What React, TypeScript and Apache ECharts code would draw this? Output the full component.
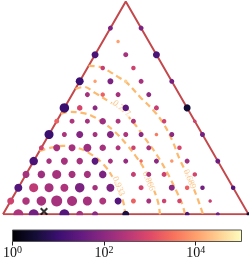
import React, { useEffect, useRef } from "react";
import * as echarts from "echarts";

const N = 16;
const SQ = Math.sqrt(3) / 2;

// each point: [column (right component * N), log10(count), marker diameter]
type Pt = [number, number, number];
const row0: Pt[] = [[1, 2.4, 10], [2, 1.7, 10], [4, 1.3, 10], [5, 2.3, 7], [6, 2.0, 6], [8, 0.6, 7], [12, 1.2, 5], [14, 1.7, 4], [16, 0.5, 4]];
const row1: Pt[] = [[0, 2.8, 7], [1, 2.4, 7.5], [2, 2.3, 9.5], [3, 2.3, 11], [4, 2.3, 10], [5, 2.3, 9], [6, 2.4, 7], [7, 1.3, 7], [8, 3.3, 5], [9, 2.3, 5], [10, 2.8, 4.5], [11, 2.9, 4.5], [13, 2.7, 3.5]];
const row2: Pt[] = [[0, 1.3, 8], [1, 2.6, 9], [2, 2.3, 9], [3, 2.4, 8], [4, 1.8, 9.5], [5, 2.3, 5.5], [6, 1.8, 8], [8, 2.8, 5], [10, 2.0, 6], [11, 3.3, 4.5], [12, 1.7, 4.5], [14, 1.3, 4.5]];
const row3: Pt[] = [[0, 2.3, 7], [1, 2.2, 7.5], [2, 2.3, 9], [3, 2.3, 7], [4, 2.3, 7], [5, 1.8, 7.5], [7, 2.7, 5], [8, 2.4, 5], [9, 2.8, 5], [11, 2.9, 4.5]];
const row4: Pt[] = [[0, 1.2, 8.5], [1, 2.3, 5.5], [2, 2.3, 7], [3, 2.3, 6.5], [4, 1.4, 7], [5, 2.3, 5], [6, 2.1, 5], [7, 3.4, 3.5], [8, 2.0, 5], [9, 3.9, 3.5], [10, 2.2, 5], [12, 1.6, 5]];
const row5: Pt[] = [[0, 2.8, 5], [1, 2.3, 7], [2, 2.3, 7], [3, 2.2, 8], [4, 2.3, 6.5], [5, 2.4, 5], [6, 2.8, 4.5], [7, 2.3, 5], [9, 2.9, 4.5]];
const row6: Pt[] = [[0, 1.0, 9], [1, 2.4, 5], [2, 1.9, 7], [3, 2.3, 5], [4, 1.9, 7], [5, 2.4, 5], [6, 2.0, 5], [7, 3.6, 3.5], [8, 2.0, 5], [10, 1.7, 5]];
const row7: Pt[] = [[0, 3.3, 5], [1, 2.4, 5], [2, 2.3, 5], [3, 2.2, 6.5], [4, 2.4, 5], [5, 2.4, 5], [7, 2.8, 4.5], [9, 2.8, 3.5]];
const row8: Pt[] = [[0, 1.0, 9.5], [1, 2.9, 5.5], [2, 2.0, 5], [4, 1.4, 6.5], [6, 2.7, 5], [8, 0.5, 7]];
const row9: Pt[] = [[1, 2.3, 5], [2, 3.3, 4.5], [3, 2.3, 5], [5, 2.0, 5]];
const row10: Pt[] = [[0, 1.0, 8], [1, 4.0, 3.5], [2, 1.8, 6], [3, 4.5, 3.5], [4, 2.3, 5], [6, 1.7, 5]];
const row11: Pt[] = [[1, 2.7, 4.5], [3, 2.8, 4.5]];
const row12: Pt[] = [[0, 1.2, 7], [2, 2.3, 5], [4, 1.2, 7]];
const row13: Pt[] = [[1, 4.0, 3.5]];
const row14: Pt[] = [[0, 1.8, 5], [2, 1.8, 5]];
const rows: Pt[][] = [row0, row1, row2, row3, row4, row5, row6, row7, row8, row9, row10, row11, row12, row13, row14];

// contour lines in simplex cartesian coordinates [x, y]
const contour933: number[][] = [[0.149, 0.2578], [0.1914, 0.2701], [0.2444, 0.2782], [0.3055, 0.2701], [0.3625, 0.2416], [0.4114, 0.2008], [0.4481, 0.1479], [0.4766, 0.0868], [0.4929, 0.0379], [0.4969, 0]];
const contour866: number[][] = [[0.2359, 0.4086], [0.2729, 0.4167], [0.3218, 0.4126], [0.3625, 0.4004], [0.4033, 0.3759], [0.4562, 0.3352], [0.5051, 0.2822], [0.5458, 0.2293], [0.5825, 0.1723], [0.611, 0.1072], [0.6314, 0.0501], [0.6395, 0]];
const contour777: number[][] = [[0.295, 0.5104], [0.3299, 0.5185], [0.3747, 0.4941], [0.4277, 0.4615], [0.4766, 0.4289], [0.5295, 0.376], [0.5784, 0.3096], [0.6273, 0.2403], [0.668, 0.1711], [0.7047, 0.0978], [0.7291, 0.0444], [0.7413, 0]];
const contour689: number[][] = [[0.3488, 0.6041], [0.3951, 0.6], [0.4358, 0.5796], [0.4684, 0.5593], [0.5051, 0.5348], [0.558, 0.4778], [0.611, 0.4248], [0.6517, 0.3719], [0.6884, 0.3027], [0.721, 0.2212], [0.7617, 0.1397], [0.7902, 0.0705], [0.8147, 0]];
const contours = [contour933, contour866, contour777, contour689];
// label: [x, y, text, rotation]
const contourLabels: [number, number, string, number][] = [
  [0.4725, 0.1153, "0.933", -68],
  [0.5947, 0.1356, "0.866", -66],
  [0.4847, 0.433, "0.777", -40],
  [0.7617, 0.1438, "0.689", -67],
];
const markerPoint: number[][] = [[0.167, 0.0114]];
const colorbarTicks = [0, 2, 4];

const MAGMA = ["#000004", "#140e36", "#3b0f70", "#641a80", "#8c2981", "#b73779", "#de4968", "#f7705c", "#fe9f6d", "#fecf92", "#fcfdbf"];
const TRI = "#c4484b";
const ORANGE = "#fdb96e";

export default function App() {
  const ref = useRef<HTMLDivElement>(null);
  useEffect(() => {
    if (!ref.current) return;
    const chart = echarts.init(ref.current, undefined, { renderer: "svg" });
    const dots: number[][] = [];
    rows.forEach((row, r) => {
      row.forEach(([c, v, s]) => {
        dots.push([c / N + r / (2 * N), (r / N) * SQ, v, s]);
      });
    });
    const tri = [[0, 0], [1, 0], [0.5, SQ], [0, 0]];
    const series: any[] = [
      {
        type: "line", xAxisIndex: 0, yAxisIndex: 0, data: tri, symbol: "none", clip: false,
        lineStyle: { color: TRI, width: 2 }, z: 1,
      },
      ...contours.map((c) => ({
        type: "line", xAxisIndex: 0, yAxisIndex: 0, data: c, symbol: "none", smooth: 0.4, clip: false,
        lineStyle: { color: ORANGE, width: 2.2, type: [6, 4] }, z: 2,
      })),
      {
        type: "scatter", xAxisIndex: 0, yAxisIndex: 0, symbolSize: 0, z: 3, clip: false,
        data: contourLabels.map(([x, y, t, rot]) => ({
          value: [x, y],
          label: {
            show: true, position: "inside", formatter: t, rotate: rot,
            color: ORANGE, fontFamily: "Liberation Serif", fontSize: 9,
            backgroundColor: "#ffffff", padding: [0, 1],
          },
        })),
      },
      {
        id: "dots", type: "scatter", xAxisIndex: 0, yAxisIndex: 0, data: dots, clip: false, z: 4,
        symbolSize: (v: number[]) => v[3],
        itemStyle: { opacity: 1 },
      },
      {
        type: "scatter", xAxisIndex: 0, yAxisIndex: 0, data: markerPoint, clip: false, z: 5,
        symbol: "path://M0,1.8L1.8,0L5,3.2L8.2,0L10,1.8L6.8,5L10,8.2L8.2,10L5,6.8L1.8,10L0,8.2L3.2,5Z",
        symbolSize: 8, itemStyle: { color: "#000000" },
      },
    ];
    chart.setOption({
      animation: false,
      grid: [
        { left: 3, top: 1.5, width: 245.5, height: 212.8, show: false },
        {
          left: 9, top: 230, width: 232.5, height: 11.5, show: true,
          backgroundColor: new echarts.graphic.LinearGradient(0, 0, 1, 0,
            MAGMA.map((c, i) => ({ offset: i / (MAGMA.length - 1), color: c }))),
          borderColor: "#555555", borderWidth: 1,
        },
      ],
      graphic: [
        { type: "rect", shape: { x: 0, y: 215.3, width: 249, height: 13 }, style: { fill: "#ffffff" }, z: 100 },
      ],
      xAxis: [
        { gridIndex: 0, type: "value", min: 0, max: 1, show: false },
        {
          gridIndex: 1, type: "value", min: 0, max: 5,
          axisLine: { show: false }, splitLine: { show: false },
          axisTick: { show: true, customValues: colorbarTicks, length: 4, lineStyle: { color: "#222222" } },
          axisLabel: {
            customValues: colorbarTicks, margin: 3,
            formatter: (v: number) => `{b|10}{s|${v}}`,
            rich: {
              b: { fontFamily: "Liberation Serif", fontSize: 14, color: "#111111", lineHeight: 16 },
              s: { fontFamily: "Liberation Serif", fontSize: 10, color: "#111111", verticalAlign: "top", lineHeight: 10 },
            },
          },
        },
      ],
      yAxis: [
        { gridIndex: 0, type: "value", min: 0, max: SQ, show: false },
        { gridIndex: 1, type: "value", min: 0, max: 1, show: false },
      ],
      visualMap: {
        show: false, type: "continuous", dimension: 2, min: 0, max: 5, seriesId: "dots",
        inRange: { color: MAGMA },
      },
      series,
    });
    return () => chart.dispose();
  }, []);
  return <div ref={ref} style={{ position: "fixed", left: 0, top: 0, width: 249, height: 261 }} />;
}
